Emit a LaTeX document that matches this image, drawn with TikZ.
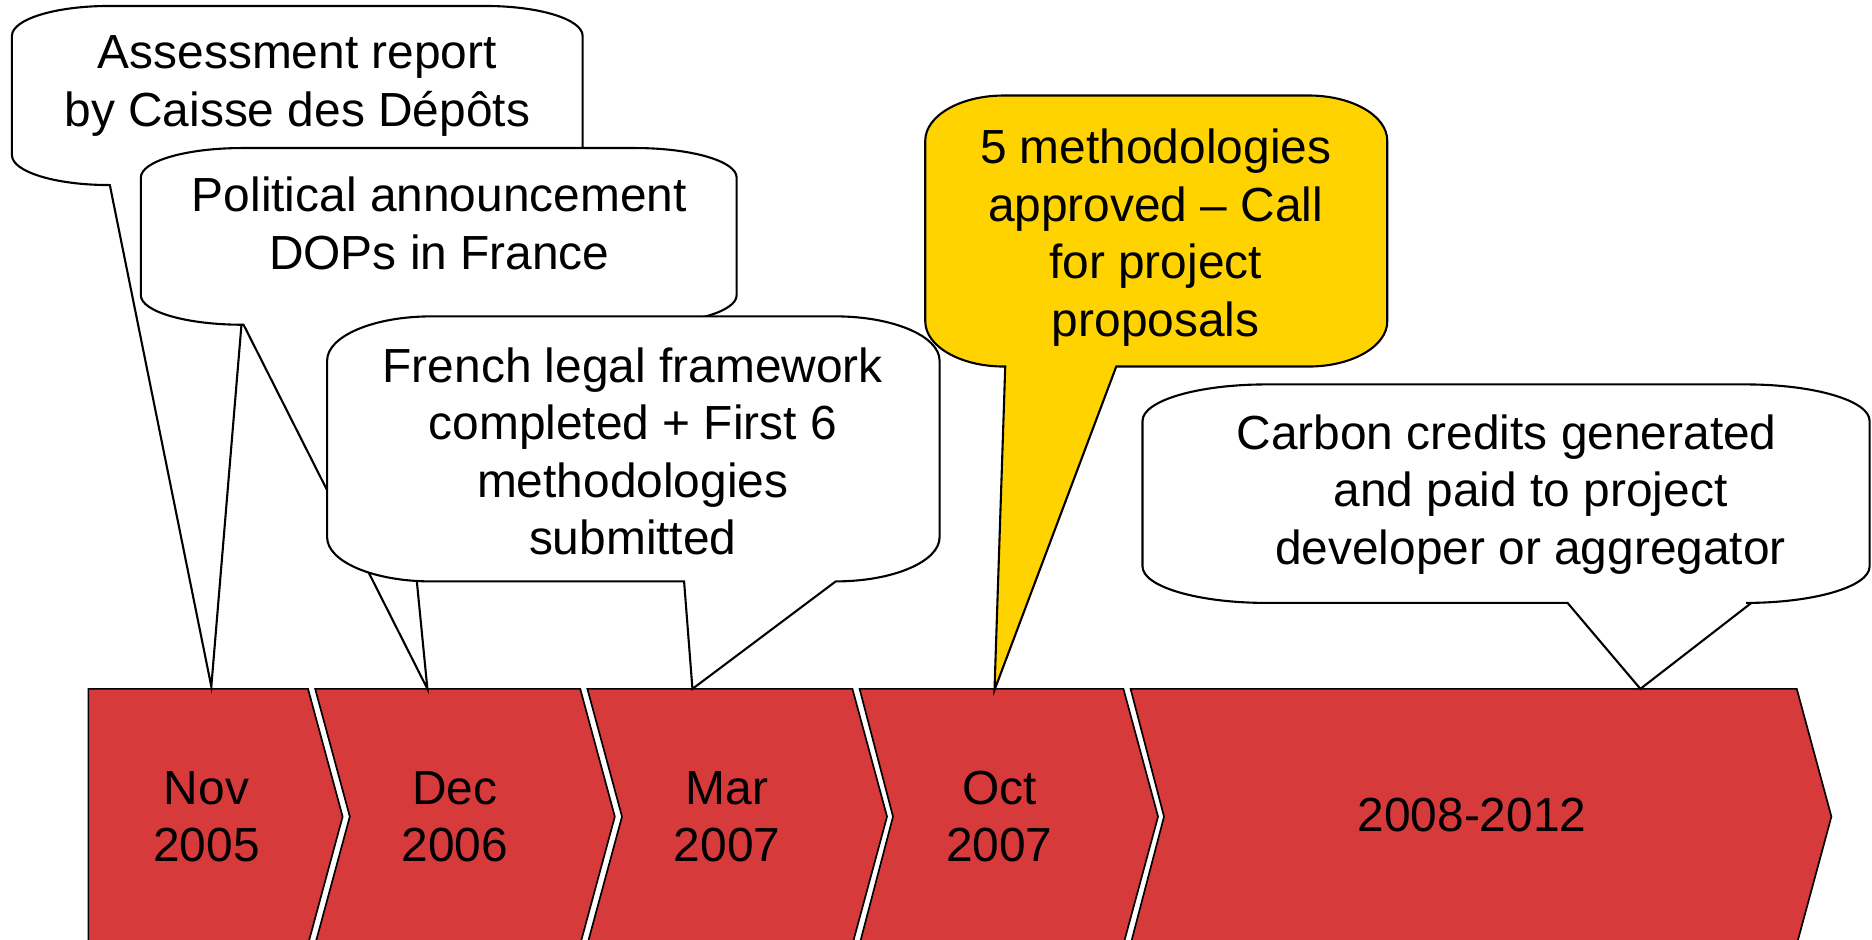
\documentclass[tikz,border=0pt]{standalone}
\usepackage{fontspec}
\setmainfont{Liberation Sans}
\definecolor{chevred}{RGB}{214,58,58}
\definecolor{callyellow}{RGB}{255,211,0}

% callout: [fill]{x left}{y bottom}{x right}{y top}{tail base left}{tail base right}{tip}
\newcommand{\callout}[8][white]{%
  \pgfmathsetmacro\rx{0.17*(#4-#2)}%
  \pgfmathsetmacro\ry{(#5-#3)/6}%
  \filldraw[bubble,fill=#1] (#2,#5-\ry) arc[start angle=180,end angle=90,x radius=\rx,y radius=\ry]
    -- (#4-\rx,#5) arc[start angle=90,end angle=0,x radius=\rx,y radius=\ry]
    -- (#4,#3+\ry) arc[start angle=0,end angle=-90,x radius=\rx,y radius=\ry]
    -- (#7,#3) -- (#8) -- (#6,#3)
    -- (#2+\rx,#3) arc[start angle=270,end angle=180,x radius=\rx,y radius=\ry] -- cycle;}

% chevron: {x left}{x right}{notch depth}
\newcommand{\chevron}[3]{%
  \filldraw[chev] (#1,210) -- (#2,210) -- ++(29,-107) -- (#2,-4) -- (#1,-4) -- ++(#3,107) -- cycle;}

\begin{document}
\begin{tikzpicture}[x=0.01cm,y=0.01cm,
  chev/.style={fill=chevred,draw=black,line width=0.4pt},
  bubble/.style={draw=black,line width=0.5pt},
  txt/.style={align=center,font=\fontsize{11.4}{13.7}\selectfont,inner sep=0pt}]
\useasboundingbox (0,0) rectangle (1568,787);

% timeline
\chevron{74}{258}{0}
\chevron{264}{486}{29}
\chevron{492}{714}{29}
\chevron{720}{941}{28}
\chevron{947}{1505}{28}
\node[txt] (nov) at (173,103) {Nov\\2005};
\node[txt] (dec) at (381,103) {Dec\\2006};
\node[txt] (mar) at (609,103) {Mar\\2007};
\node[txt] (oct) at (837,103) {Oct\\2007};
\node[txt] (period) at (1233,104) {2008-2012};

% where the callouts point
\coordinate (nov-tip) at (177,212);
\coordinate (dec-tip) at (358,210);
\coordinate (mar-tip) at (580,210);
\coordinate (oct-tip) at (833,209);
\coordinate (period-tip) at (1374,210);

% callouts
\callout{10}{632}{488}{782}{92}{212}{nov-tip}
\node[txt] (assess) at (249,715) {Assessment report\\by Caisse des Dépôts};
\callout{118}{515}{617}{663}{204}{328}{dec-tip}
\node[txt] (announce) at (368,600) {Political announcement\\DOPs in France};
\callout{274}{300}{787}{522}{573}{700}{mar-tip}
\node[txt] (legal) at (530,409) {French legal framework\\completed + First 6\\methodologies\\submitted};
\callout[callyellow]{775}{480}{1162}{707}{842}{935}{oct-tip}
\node[txt] (approved) at (968,588) {5 methodologies\\approved -- Call\\for project\\proposals};
\callout{957}{282}{1566}{465}{1313}{1467}{period-tip}
\node[txt] (credits) at (1282,373) {Carbon credits generated\hspace*{0.4cm}\\and paid to project\\developer or aggregator};
\end{tikzpicture}
\end{document}
